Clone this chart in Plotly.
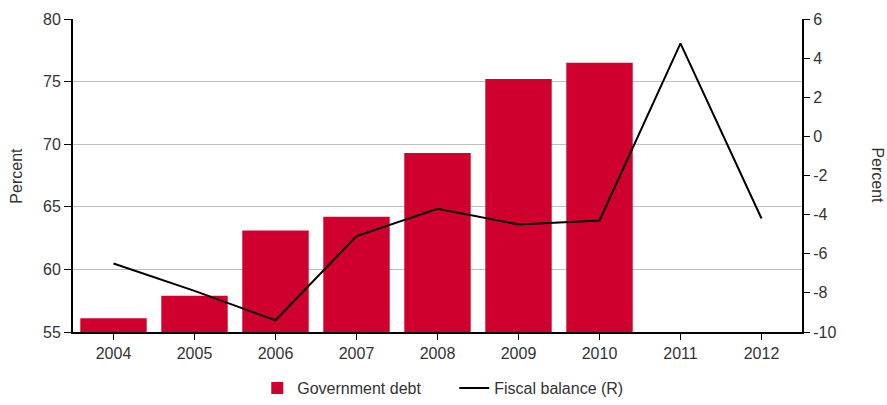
import plotly.graph_objects as go

years = ["2004", "2005", "2006", "2007", "2008", "2009", "2010", "2011", "2012"]
debt_years = ["2004", "2005", "2006", "2007", "2008", "2009", "2010"]
government_debt = [56.1, 57.9, 63.1, 64.2, 69.3, 75.2, 76.5]
fiscal_balance = [-6.5, -7.9, -9.4, -5.1, -3.7, -4.5, -4.3, 4.75, -4.2]

left_ticks = [55, 60, 65, 70, 75, 80]
right_ticks = [-10, -8, -6, -4, -2, 0, 2, 4, 6]
right_tick_text = [str(v) for v in right_ticks]

FONT = "Liberation Sans, Arial, sans-serif"
TXT = "#333333"

fig = go.Figure()
fig.add_trace(go.Bar(
    x=debt_years, y=government_debt, name="Government debt",
    marker=dict(color="#d0002e", line=dict(width=0)), width=0.82,
))
fig.add_trace(go.Scatter(
    x=years, y=fiscal_balance, name="Fiscal balance (R)", yaxis="y2",
    mode="lines", line=dict(color="black", width=2),
))

fig.update_layout(
    width=887, height=405,
    margin=dict(l=73, r=85, t=19, b=73, autoexpand=False),
    plot_bgcolor="white", paper_bgcolor="white",
    font=dict(family=FONT, size=15, color=TXT),
    showlegend=True,
    legend=dict(orientation="h", x=0.523, xanchor="center",
                yref="container", y=-0.025, yanchor="bottom",
                font=dict(size=16, color=TXT), itemwidth=30, traceorder="normal",
                entrywidth=152, entrywidthmode="pixels"),
    xaxis=dict(
        type="category", categoryorder="array", categoryarray=years,
        range=[-0.5, 8.5], showline=True, linecolor="black", linewidth=2,
        ticks="outside", ticklen=6, tickcolor="black", tickwidth=1,
        showgrid=False, tickfont=dict(size=16, color=TXT),
    ),
    yaxis=dict(
        range=[55, 80], tickvals=left_ticks, showline=True, linecolor="black",
        linewidth=2, ticks="outside", ticklen=7, tickcolor="black",
        showgrid=True, gridcolor="#c0c0c0", gridwidth=1.3, zeroline=False,
        tickfont=dict(size=16, color=TXT),
    ),
    yaxis2=dict(
        range=[-10, 6], tickvals=right_ticks, ticktext=right_tick_text,
        overlaying="y", side="right",
        showline=True, linecolor="black", linewidth=2, ticks="outside",
        ticklen=6, tickcolor="black", showgrid=False, zeroline=False,
        tickfont=dict(size=16, color=TXT),
    ),
    annotations=[
        dict(text="Percent", xref="paper", yref="paper", x=-0.078, y=0.5,
             showarrow=False, textangle=-90, font=dict(size=16, color=TXT),
             xanchor="center", yanchor="middle"),
        dict(text="Percent", xref="paper", yref="paper", x=1.103, y=0.5,
             showarrow=False, textangle=90, font=dict(size=16, color=TXT),
             xanchor="center", yanchor="middle"),
    ],
)

fig.write_html("out.html")
